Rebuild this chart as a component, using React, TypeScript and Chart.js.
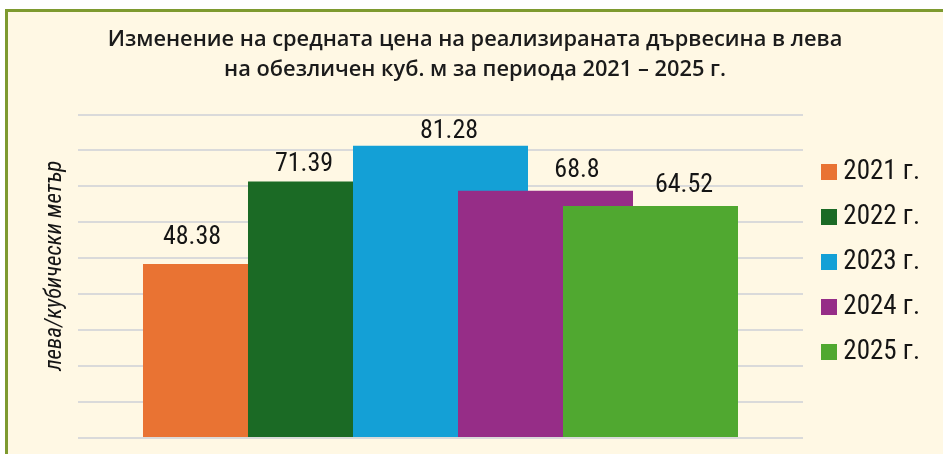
import React, { useEffect, useRef } from "react";
import { Chart, registerables } from "chart.js";

Chart.register(...registerables);

// ---- data ----
const TITLE_LINES = [
  "Изменение на средната цена на реализираната дървесина в лева",
  "на обезличен куб. м за периода 2021 – 2025 г.",
];
const CATEGORY = [""];
const YEARS = ["2021 г.", "2022 г.", "2023 г.", "2024 г.", "2025 г."];
const PRICES = [48.38, 71.39, 81.28, 68.8, 64.52];
const Y_TITLE = "лева/кубически метър";
const Y_MIN = 0;
const Y_MAX = 90;
const Y_STEP = 10;

// ---- style ----
const COLORS = ["#E97333", "#1B6A25", "#14A0D6", "#962D87", "#50A830"];
const LABEL_NUDGE_X = [-38.5, -31.5, 8.5, 31.5, 33.5];
const LABEL_GAP = [20, 10, 8, 14, 14];
const NARROW = "'Roboto Condensed', 'Open Sans', sans-serif";
const TITLE_FONT = "'Open Sans', 'Noto Sans', sans-serif";
const CREAM = "#FFF8E4";
const LEGEND_FONT_SIZE = 27;
const LEGEND_PAD = 18;
const PLOT_RIGHT = 803;
const LEGEND_TEXT_RIGHT = 920;

const drawOrderPlugin = {
  id: "drawOrder",
  beforeDatasetsDraw(chart: any) {
    const metas = chart.getSortedVisibleDatasetMetas();
    for (const m of metas) m.controller.draw();
    return false;
  },
};

const valueLabels = {
  id: "valueLabels",
  afterDraw(chart: any) {
    const ctx = chart.ctx;
    ctx.save();
    ctx.font = `26px ${NARROW}`;
    ctx.fillStyle = "#151515";
    ctx.textAlign = "center";
    ctx.textBaseline = "alphabetic";
    chart.data.datasets.forEach((ds: any, i: number) => {
      const meta = chart.getDatasetMeta(i);
      const el = meta.data[0];
      if (!el) return;
      ctx.fillText(String(ds.data[0]), el.x + LABEL_NUDGE_X[i], el.y - LABEL_GAP[i]);
    });
    ctx.restore();
  },
};

export default function App() {
  const ref = useRef<HTMLCanvasElement | null>(null);

  useEffect(() => {
    if (!ref.current) return;
    const legendWidth = LEGEND_TEXT_RIGHT - PLOT_RIGHT;
    const padRight = 943 - LEGEND_TEXT_RIGHT;

    const chart = new Chart(ref.current, {
      type: "bar",
      data: {
        labels: CATEGORY,
        datasets: YEARS.map((y, i) => ({
          label: y,
          data: [PRICES[i]],
          backgroundColor: COLORS[i],
          borderWidth: 0,
          categoryPercentage: 0.72414,
          barPercentage: 1.66667,
        })),
      },
      options: {
        animation: false,
        responsive: false,
        devicePixelRatio: 1,
        layout: { padding: { left: 30, right: padRight, top: 0, bottom: 16 } },
        plugins: {
          tooltip: { enabled: false },
          title: {
            display: true,
            text: TITLE_LINES,
            color: "#1b1b1b",
            font: { family: TITLE_FONT, size: 21.8, weight: "600", lineHeight: 30 / 21.8 },
            padding: { top: 25, bottom: 29.5 },
          },
          legend: {
            position: "right",
            align: "start",
            fullSize: false,
            maxWidth: legendWidth,
            title: { display: true, text: "", padding: 0, font: { size: 26, lineHeight: 1 } },
            labels: {
              boxWidth: 16,
              boxHeight: 16,
              padding: LEGEND_PAD,
              textAlign: "right",
              color: "#151515",
              font: { family: NARROW, size: LEGEND_FONT_SIZE },
            },
          },
        },
        scales: {
          x: { type: "category", display: false },
          y: {
            min: Y_MIN,
            max: Y_MAX,
            ticks: { display: false, stepSize: Y_STEP },
            border: { display: false },
            grid: { color: "#DADADA", lineWidth: 2, drawTicks: false },
            title: {
              display: true,
              text: "    " + Y_TITLE,
              color: "#151515",
              font: { family: NARROW, size: 23, style: "italic", lineHeight: 1.2 },
              padding: { top: 11.2, bottom: 9.2 },
            },
          },
        },
      },
      plugins: [drawOrderPlugin, valueLabels],
    } as any);
    return () => chart.destroy();
  }, []);

  return (
    <div style={{ position: "fixed", left: 0, top: 0, width: 943, height: 454, overflow: "hidden", background: "#fff" }}>
      <div
        style={{
          position: "absolute",
          left: 5,
          top: 9,
          width: 960,
          height: 480,
          border: "3px solid #7E9A2F",
          background: CREAM,
        }}
      />
      <canvas ref={ref} width={943} height={454} style={{ position: "absolute", left: 0, top: 0 }} />
    </div>
  );
}
